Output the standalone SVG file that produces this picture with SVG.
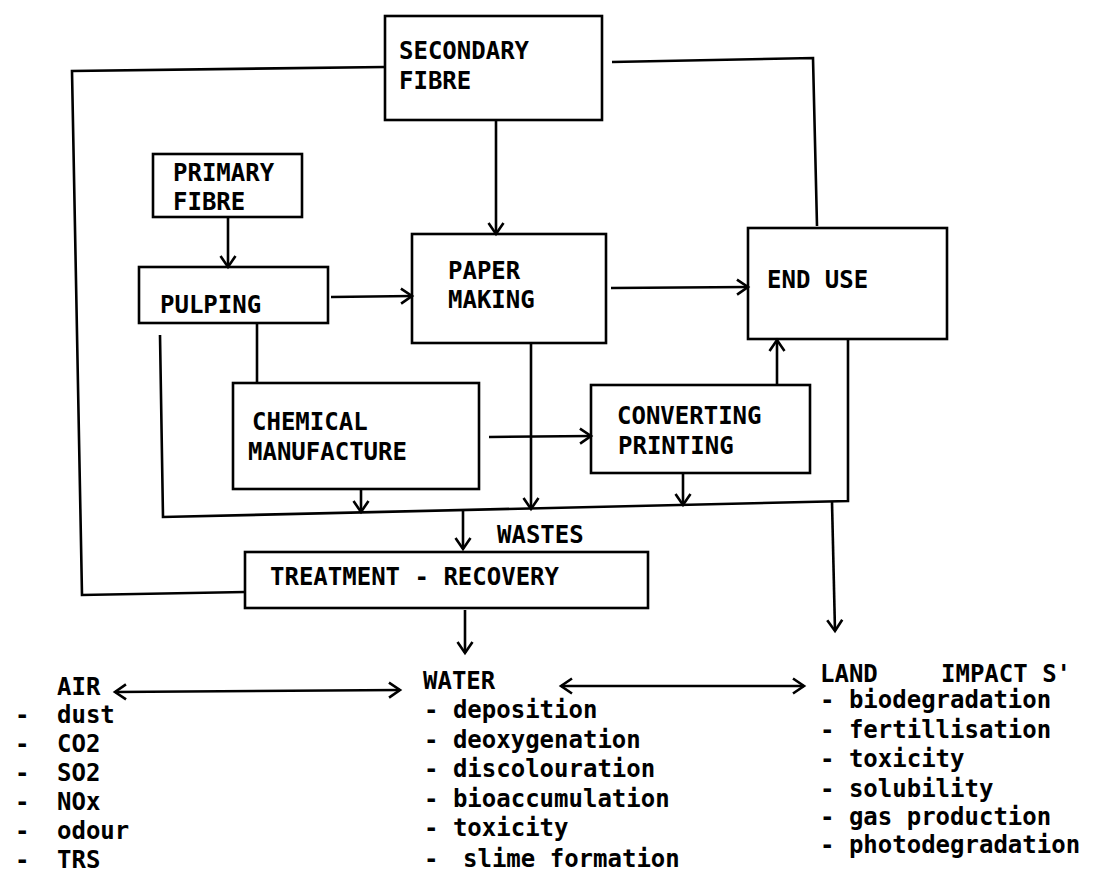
<svg xmlns="http://www.w3.org/2000/svg" width="1100" height="877" viewBox="0 0 1100 877">
<style>
.box{fill:none;stroke:#000;stroke-width:2.6}
.ln{fill:none;stroke:#000;stroke-width:2.6;stroke-linejoin:miter}
.ar{marker-end:url(#ah)}
.da{marker-start:url(#ah);marker-end:url(#ah)}
text{font-family:"DejaVu Sans Mono","Liberation Mono",monospace;font-weight:bold;font-size:24px;fill:#000}
</style>
<defs>
<marker id="ah" markerUnits="userSpaceOnUse" markerWidth="16" markerHeight="18" viewBox="0 0 14 18" refX="12" refY="9" orient="auto-start-reverse">
<path d="M1,1.5 L12,9 L1,16.5" fill="none" stroke="#000" stroke-width="2.6"/>
</marker>
</defs>
<rect width="1100" height="877" fill="#fff"/>

<g id="connectors">
<polyline class="ln" points="385,67 72,71 82,595 245,592"/>
<polyline class="ln" points="612,62 813,58 817,226"/>
<line class="ln ar" x1="228" y1="217" x2="228" y2="267"/>
<line class="ln ar" x1="496" y1="120" x2="496" y2="234"/>
<line class="ln ar" x1="331" y1="297" x2="412" y2="296"/>
<line class="ln ar" x1="611" y1="288" x2="748" y2="287"/>
<line class="ln" x1="257" y1="323" x2="257" y2="383"/>
<polyline class="ln" points="160,335 163,517 848,501 848,338"/>
<line class="ln ar" x1="361" y1="489" x2="361" y2="512"/>
<line class="ln ar" x1="531" y1="343" x2="531" y2="509"/>
<line class="ln ar" x1="489" y1="437" x2="591" y2="436"/>
<line class="ln ar" x1="777" y1="385" x2="777" y2="340"/>
<line class="ln ar" x1="683" y1="473" x2="683" y2="505"/>
<line class="ln ar" x1="463" y1="510" x2="463" y2="549"/>
<line class="ln ar" x1="832" y1="502" x2="835" y2="631"/>
<line class="ln ar" x1="465" y1="610" x2="465" y2="653"/>
<line class="ln da" x1="115" y1="692" x2="400" y2="690"/>
<line class="ln da" x1="561" y1="686" x2="804" y2="686"/>
</g>

<g id="secondary-fibre">
<rect class="box" x="385" y="16" width="217" height="104"/>
<text x="399" y="59">SECONDARY</text>
<text x="399" y="89">FIBRE</text>
</g>
<g id="primary-fibre">
<rect class="box" x="153" y="154" width="149" height="63"/>
<text x="173" y="181">PRIMARY</text>
<text x="173" y="210">FIBRE</text>
</g>
<g id="pulping">
<rect class="box" x="139" y="267" width="189" height="56"/>
<text x="160" y="313">PULPING</text>
</g>
<g id="paper-making">
<rect class="box" x="412" y="234" width="194" height="109"/>
<text x="448" y="279">PAPER</text>
<text x="448" y="308">MAKING</text>
</g>
<g id="end-use">
<rect class="box" x="748" y="228" width="199" height="111"/>
<text x="767" y="288">END USE</text>
</g>
<g id="chemical-manufacture">
<rect class="box" x="233" y="383" width="246" height="106"/>
<text x="252" y="430">CHEMICAL</text>
<text x="248" y="460">MANUFACTURE</text>
</g>
<g id="converting-printing">
<rect class="box" x="591" y="385" width="219" height="88"/>
<text x="617" y="424">CONVERTING</text>
<text x="618" y="454">PRINTING</text>
</g>
<g id="wastes">
<text x="497" y="543">WASTES</text>
</g>
<g id="treatment-recovery">
<rect class="box" x="245" y="552" width="403" height="56"/>
<text x="270" y="585">TREATMENT - RECOVERY</text>
</g>

<g id="air">
<text x="57" y="695">AIR</text>
<text x="15" y="723">-<tspan x="57">dust</tspan></text>
<text x="15" y="752">-<tspan x="57">CO2</tspan></text>
<text x="15" y="781">-<tspan x="57">SO2</tspan></text>
<text x="15" y="810">-<tspan x="57">NOx</tspan></text>
<text x="15" y="839">-<tspan x="57">odour</tspan></text>
<text x="15" y="868">-<tspan x="57">TRS</tspan></text>
</g>
<g id="water">
<text x="423" y="689">WATER</text>
<text x="424" y="718">- deposition</text>
<text x="424" y="748">- deoxygenation</text>
<text x="424" y="777">- discolouration</text>
<text x="424" y="807">- bioaccumulation</text>
<text x="424" y="836">- toxicity</text>
<text x="424" y="867">-<tspan x="463">slime formation</tspan></text>
</g>
<g id="land">
<text x="820" y="682">LAND<tspan x="941">IMPACT S'</tspan></text>
<text x="820" y="708">- biodegradation</text>
<text x="820" y="738">- fertillisation</text>
<text x="820" y="767">- toxicity</text>
<text x="820" y="797">- solubility</text>
<text x="820" y="825">- gas production</text>
<text x="820" y="853">- photodegradation</text>
</g>
</svg>
